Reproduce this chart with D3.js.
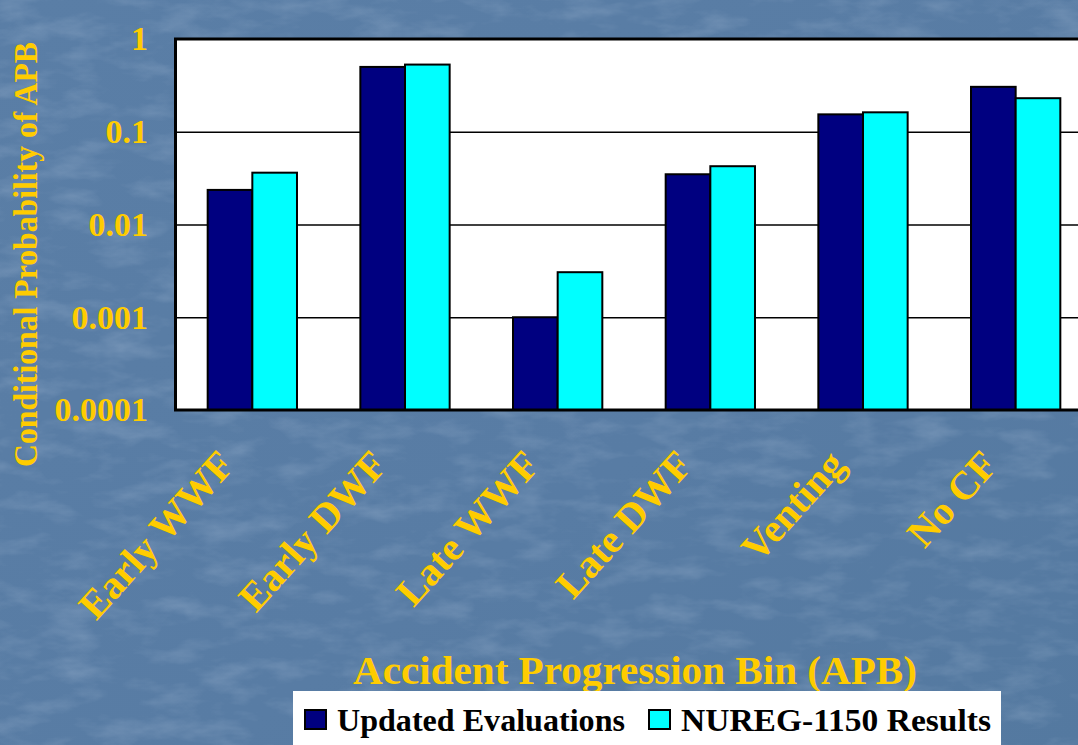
<!DOCTYPE html>
<html>
<head>
<meta charset="utf-8">
<script src="https://cdn.jsdelivr.net/npm/d3@7/dist/d3.min.js"></script>
<style>
  html, body { margin: 0; padding: 0; background: #5a7da6; overflow: hidden; }
  svg { display: block; }
  text { font-family: "Liberation Serif", "Times New Roman", serif; font-weight: bold; }
</style>
</head>
<body>
<svg id="chart" width="1078" height="745"></svg>
<script>
// ---- data ----
const categories = ["Early WWF", "Early DWF", "Late WWF", "Late DWF", "Venting", "No CF"];
const seriesNames = ["Updated Evaluations", "NUREG-1150 Results"];
const updatedEvaluations = [0.0236, 0.50, 0.00100, 0.0348, 0.154, 0.305];
const nureg1150Results   = [0.0362, 0.53, 0.00306, 0.0425, 0.162, 0.230];
const tickValues = [0.0001, 0.001, 0.01, 0.1, 1];
const tickLabels = ["0.0001", "0.001", "0.01", "0.1", "1"];
const yTitle = "Conditional Probability of APB";
const xTitle = "Accident Progression Bin (APB)";

const seriesValues = [updatedEvaluations, nureg1150Results];
const colors = ["#000080", "#00FFFF"];
const yellow = "#FFCC00";

const svg = d3.select("#chart");
const W = 1078, H = 745;

// ---- background texture ----
const defs = svg.append("defs");
const f = defs.append("filter").attr("id", "marble").attr("x", 0).attr("y", 0).attr("width", "100%").attr("height", "100%");
f.append("feTurbulence").attr("type", "fractalNoise").attr("baseFrequency", "0.02 0.05").attr("numOctaves", 4).attr("seed", 11).attr("result", "n");
f.append("feColorMatrix").attr("in", "n").attr("type", "matrix")
  .attr("values", "0 0 0 0 0.62  0 0 0 0 0.72  0 0 0 0 0.86  1.4 0 0 0 -0.62");
const grad = defs.append("linearGradient").attr("id", "bgGrad").attr("x1", 0).attr("y1", 0).attr("x2", 1).attr("y2", 1);
grad.append("stop").attr("offset", "0%").attr("stop-color", "#5a7ea6");
grad.append("stop").attr("offset", "60%").attr("stop-color", "#587ca4");
grad.append("stop").attr("offset", "100%").attr("stop-color", "#5479a0");
svg.append("rect").attr("width", W).attr("height", H).attr("fill", "url(#bgGrad)");
svg.append("rect").attr("width", W).attr("height", H).attr("filter", "url(#marble)").attr("opacity", 0.3);

// ---- scales ----
const plotLeft = 176, plotRight = 1092, plotTop = 39, plotBottom = 410;
const x0 = d3.scaleBand().domain(categories).range([plotLeft, plotRight]).paddingInner(0.415).paddingOuter(0.2075);
const x1 = d3.scaleBand().domain(seriesNames).range([0, x0.bandwidth()]);
const y = d3.scaleLog().domain([0.0001, 1]).range([plotBottom, plotTop]);

// plot area
svg.append("rect").attr("x", plotLeft).attr("y", plotTop).attr("width", plotRight - plotLeft).attr("height", plotBottom - plotTop)
  .attr("fill", "#ffffff");

// gridlines
const grid = svg.append("g").attr("transform", `translate(${plotLeft},0)`)
  .call(d3.axisLeft(y).tickValues(tickValues.slice(1, -1)).tickSize(-(plotRight - plotLeft)).tickFormat(""));
grid.select(".domain").remove();
grid.selectAll("line").attr("stroke", "#000").attr("stroke-width", 1.6);

// bars
const groups = svg.append("g").selectAll("g").data(categories).join("g")
  .attr("transform", d => `translate(${x0(d)},0)`);
groups.selectAll("rect").data((c, i) => seriesNames.map((s, k) => ({ s, k, v: seriesValues[k][i] })))
  .join("rect")
  .attr("x", d => x1(d.s))
  .attr("y", d => y(d.v))
  .attr("width", x1.bandwidth())
  .attr("height", d => y(0.0001) - y(d.v))
  .attr("fill", d => colors[d.k])
  .attr("stroke", "#000").attr("stroke-width", 2);

// plot border
svg.append("rect").attr("x", plotLeft - 0.5).attr("y", plotTop).attr("width", plotRight - plotLeft).attr("height", plotBottom - plotTop)
  .attr("fill", "none").attr("stroke", "#000").attr("stroke-width", 3);

// y axis labels
const yAxis = svg.append("g").attr("transform", `translate(${plotLeft},0)`)
  .call(d3.axisLeft(y).tickValues(tickValues).tickSize(0).tickPadding(28).tickFormat((d, i) => tickLabels[i]));
yAxis.select(".domain").remove();
yAxis.selectAll("text").attr("fill", yellow).attr("font-size", 34)
  .style("font-family", "'Liberation Serif', 'Times New Roman', serif").style("font-weight", "bold");

// category labels
svg.append("g").selectAll("text").data(categories).join("text")
  .attr("transform", d => `translate(${x0(d) + x0.bandwidth() / 2 - 16},466) rotate(-48)`)
  .attr("text-anchor", "end")
  .attr("fill", yellow).attr("font-size", 40)
  .text(d => d);

// y title
svg.append("text")
  .attr("transform", "translate(37,467) rotate(-90)")
  .attr("text-anchor", "start").attr("fill", yellow).attr("font-size", 34)
  .attr("textLength", 425).attr("lengthAdjust", "spacingAndGlyphs")
  .text(yTitle);

// x title
svg.append("text").attr("x", 353).attr("y", 684).attr("fill", yellow).attr("font-size", 39)
  .attr("textLength", 564).attr("lengthAdjust", "spacingAndGlyphs").text(xTitle);

// legend
const lg = svg.append("g");
lg.append("rect").attr("x", 293).attr("y", 691).attr("width", 708).attr("height", 60).attr("fill", "#fff");
const legendX = [305, 649];
const legendLen = [288, 310];
seriesNames.forEach((s, k) => {
  lg.append("rect").attr("x", legendX[k]).attr("y", 710).attr("width", 21).attr("height", 19)
    .attr("fill", colors[k]).attr("stroke", "#000").attr("stroke-width", 2);
  lg.append("text").attr("x", legendX[k] + 32).attr("y", 731).attr("fill", "#000").attr("font-size", 31)
    .attr("textLength", legendLen[k]).attr("lengthAdjust", "spacingAndGlyphs").text(s);
});
</script>
</body>
</html>
